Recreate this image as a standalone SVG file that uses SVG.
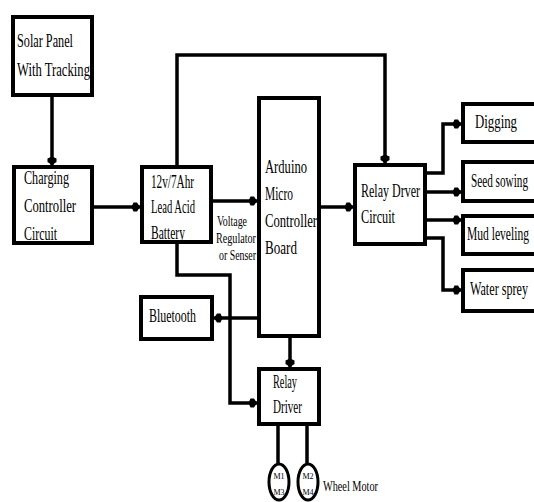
<svg xmlns="http://www.w3.org/2000/svg" width="534" height="502" viewBox="0 0 534 502">
<style>
.box{fill:#fff;stroke:#000;stroke-width:4}
.ln{fill:none;stroke:#000;stroke-width:3.5;stroke-linejoin:miter}
.t{font-family:"Liberation Serif","Times New Roman",serif;font-size:19px;fill:#000}
.s{font-family:"Liberation Serif","Times New Roman",serif;font-size:14px;fill:#000}
.m{font-family:"Liberation Serif","Times New Roman",serif;font-size:8px;fill:#000}
</style>
<defs>
<marker id="ah" markerUnits="userSpaceOnUse" markerWidth="12" markerHeight="12" viewBox="-10 -6 12 12" refX="0" refY="0" orient="auto">
<path d="M0,0 L-3,-4.5 L-6.5,-4.5 L-8.5,0 L-6.5,4.5 L-3,4.5 Z" fill="#000"/>
</marker>
</defs>
<g id="connectors">
<path class="ln" d="M52,97 V165" marker-end="url(#ah)"/>
<path class="ln" d="M94,207 H140" marker-end="url(#ah)"/>
<path class="ln" d="M177,165 V55 H385 V163" marker-end="url(#ah)"/>
<path class="ln" d="M213,201 H257" marker-end="url(#ah)"/>
<path class="ln" d="M321,207 H353" marker-end="url(#ah)"/>
<path class="ln" d="M427,173 H443 V124 H461" marker-end="url(#ah)"/>
<path class="ln" d="M427,192 H461" marker-end="url(#ah)"/>
<path class="ln" d="M427,220 H461" marker-end="url(#ah)"/>
<path class="ln" d="M427,238 H443 V290 H461" marker-end="url(#ah)"/>
<path class="ln" d="M177,244 V275 H230 V403 H257" marker-end="url(#ah)"/>
<path class="ln" d="M257,318 H214" marker-end="url(#ah)"/>
<path class="ln" d="M290,338 V367" marker-end="url(#ah)"/>
<path class="ln" d="M278,426 V463"/>
<path class="ln" d="M307,426 V463"/>
</g>
<g id="solar">
<rect class="box" x="13" y="17" width="79" height="78"/>
<text class="t" x="17" y="47" textLength="56" lengthAdjust="spacingAndGlyphs">Solar Panel</text>
<text class="t" x="17" y="76" textLength="73" lengthAdjust="spacingAndGlyphs">With Tracking</text>
</g>
<g id="charging">
<rect class="box" x="14" y="167" width="78" height="76"/>
<text class="t" x="24" y="184" textLength="45" lengthAdjust="spacingAndGlyphs">Charging</text>
<text class="t" x="24" y="212" textLength="52" lengthAdjust="spacingAndGlyphs">Controller</text>
<text class="t" x="24" y="240" textLength="33" lengthAdjust="spacingAndGlyphs">Circuit</text>
</g>
<g id="battery">
<rect class="box" x="142" y="167" width="69" height="75"/>
<text class="t" x="151" y="188" textLength="43" lengthAdjust="spacingAndGlyphs">12v/7Ahr</text>
<text class="t" x="151" y="213" textLength="44" lengthAdjust="spacingAndGlyphs">Lead Acid</text>
<text class="t" x="151" y="239" textLength="34" lengthAdjust="spacingAndGlyphs">Battery</text>
</g>
<g id="regulator-label">
<text class="s" x="217" y="226" textLength="30" lengthAdjust="spacingAndGlyphs">Voltage</text>
<text class="s" x="216" y="243" textLength="40" lengthAdjust="spacingAndGlyphs">Regulator</text>
<text class="s" x="219" y="260" textLength="37" lengthAdjust="spacingAndGlyphs">or Senser</text>
</g>
<g id="arduino">
<rect class="box" x="259" y="98" width="60" height="238"/>
<text class="t" x="265" y="173" textLength="42" lengthAdjust="spacingAndGlyphs">Arduino</text>
<text class="t" x="265" y="200" textLength="28" lengthAdjust="spacingAndGlyphs">Micro</text>
<text class="t" x="265" y="227" textLength="52" lengthAdjust="spacingAndGlyphs">Controller</text>
<text class="t" x="265" y="254" textLength="32" lengthAdjust="spacingAndGlyphs">Board</text>
</g>
<g id="relay-circuit">
<rect class="box" x="355" y="165" width="70" height="79"/>
<text class="t" x="361" y="197" textLength="59" lengthAdjust="spacingAndGlyphs">Relay Drver</text>
<text class="t" x="361" y="223" textLength="34" lengthAdjust="spacingAndGlyphs">Circuit</text>
</g>
<g id="digging">
<rect class="box" x="463" y="104" width="90" height="38"/>
<text class="t" x="475" y="128" textLength="42" lengthAdjust="spacingAndGlyphs">Digging</text>
</g>
<g id="seed">
<rect class="box" x="463" y="162" width="90" height="39"/>
<text class="t" x="471" y="187" textLength="57" lengthAdjust="spacingAndGlyphs">Seed sowing</text>
</g>
<g id="mud">
<rect class="box" x="463" y="216" width="90" height="38"/>
<text class="t" x="467" y="240" textLength="62" lengthAdjust="spacingAndGlyphs">Mud leveling</text>
</g>
<g id="water">
<rect class="box" x="463" y="270" width="90" height="41"/>
<text class="t" x="470" y="295" textLength="58" lengthAdjust="spacingAndGlyphs">Water sprey</text>
</g>
<g id="bluetooth">
<rect class="box" x="141" y="297" width="71" height="42"/>
<text class="t" x="149" y="322" textLength="47" lengthAdjust="spacingAndGlyphs">Bluetooth</text>
</g>
<g id="relay-driver">
<rect class="box" x="259" y="369" width="60" height="55"/>
<text class="t" x="273" y="388" textLength="24" lengthAdjust="spacingAndGlyphs">Relay</text>
<text class="t" x="273" y="413" textLength="29" lengthAdjust="spacingAndGlyphs">Driver</text>
</g>
<g id="motor1">
<ellipse cx="279" cy="482" rx="10" ry="18" fill="#fff" stroke="#000" stroke-width="3"/>
<text class="m" x="279" y="479" text-anchor="middle">M1</text>
<text class="m" x="279" y="495" text-anchor="middle">M3</text>
</g>
<g id="motor2">
<ellipse cx="308" cy="482" rx="10" ry="18" fill="#fff" stroke="#000" stroke-width="3"/>
<text class="m" x="308" y="479" text-anchor="middle">M2</text>
<text class="m" x="308" y="495" text-anchor="middle">M4</text>
</g>
<text class="s" x="323" y="491" textLength="55" lengthAdjust="spacingAndGlyphs">Wheel Motor</text>
</svg>
